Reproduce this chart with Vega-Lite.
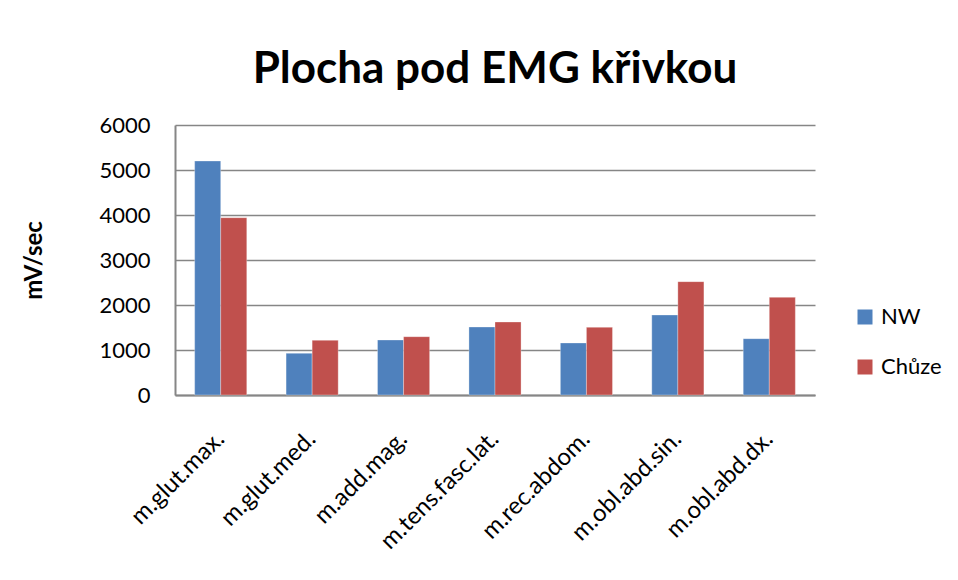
{
  "$schema": "https://vega.github.io/schema/vega-lite/v6.json",
  "width": 640,
  "height": 270,
  "autosize": {"type": "none"},
  "padding": {"left": 175, "top": 125, "right": 143, "bottom": 185},
  "background": "white",
  "title": {
    "text": "Plocha pod EMG křivkou",
    "font": "Lato",
    "fontSize": 44,
    "fontWeight": "bold",
    "color": "black",
    "anchor": "middle",
    "offset": 22
  },
  "data": {
    "values": [
      {"sval": "m.glut.max.", "serie": "NW", "value": 5200},
      {"sval": "m.glut.max.", "serie": "Chůze", "value": 3940},
      {"sval": "m.glut.med.", "serie": "NW", "value": 926},
      {"sval": "m.glut.med.", "serie": "Chůze", "value": 1215},
      {"sval": "m.add.mag.", "serie": "NW", "value": 1222},
      {"sval": "m.add.mag.", "serie": "Chůze", "value": 1296},
      {"sval": "m.tens.fasc.lat.", "serie": "NW", "value": 1511},
      {"sval": "m.tens.fasc.lat.", "serie": "Chůze", "value": 1622},
      {"sval": "m.rec.abdom.", "serie": "NW", "value": 1156},
      {"sval": "m.rec.abdom.", "serie": "Chůze", "value": 1504},
      {"sval": "m.obl.abd.sin.", "serie": "NW", "value": 1778},
      {"sval": "m.obl.abd.sin.", "serie": "Chůze", "value": 2519},
      {"sval": "m.obl.abd.dx.", "serie": "NW", "value": 1252},
      {"sval": "m.obl.abd.dx.", "serie": "Chůze", "value": 2170}
    ]
  },
  "mark": {"type": "bar", "stroke": "white", "strokeWidth": 0.5, "strokeOpacity": 0.6},
  "encoding": {
    "x": {
      "field": "sval",
      "type": "nominal",
      "sort": null,
      "title": null,
      "scale": {"paddingInner": 0.43, "paddingOuter": 0.215},
      "axis": {
        "labelAngle": -45,
        "labelAlign": "right",
        "labelBaseline": "middle",
        "labelPadding": 40,
        "labelFont": "Lato",
        "labelFontSize": 24,
        "labelColor": "black",
        "ticks": false,
        "domainColor": "#868686",
        "domainWidth": 2,
        "labelLimit": 300
      }
    },
    "xOffset": {"field": "serie", "type": "nominal", "sort": ["NW", "Chůze"]},
    "y": {
      "field": "value",
      "type": "quantitative",
      "title": "mV/sec",
      "scale": {"domain": [0, 6000], "nice": false},
      "axis": {
        "values": [0, 1000, 2000, 3000, 4000, 5000, 6000],
        "format": "d",
        "ticks": false,
        "labelFont": "Lato",
        "labelFontSize": 22,
        "labelColor": "black",
        "labelPadding": 25,
        "domainColor": "#868686",
        "domainWidth": 2,
        "gridColor": "#868686",
        "gridWidth": 1.5,
        "titleFont": "Lato",
        "titleFontSize": 24,
        "titleFontWeight": "bold",
        "titleColor": "black",
        "titlePadding": 52
      }
    },
    "color": {
      "field": "serie",
      "type": "nominal",
      "sort": ["NW", "Chůze"],
      "scale": {"domain": ["NW", "Chůze"], "range": ["#4f81bd", "#c0504d"]},
      "legend": {
        "title": null,
        "orient": "none",
        "legendX": 679,
        "legendY": 181,
        "symbolType": "square",
        "symbolSize": 225,
        "symbolStrokeWidth": 0,
        "labelFont": "Lato",
        "labelFontSize": 22,
        "labelColor": "black",
        "rowPadding": 28,
        "labelOffset": 5
      }
    }
  },
  "config": {"view": {"stroke": null}}
}
